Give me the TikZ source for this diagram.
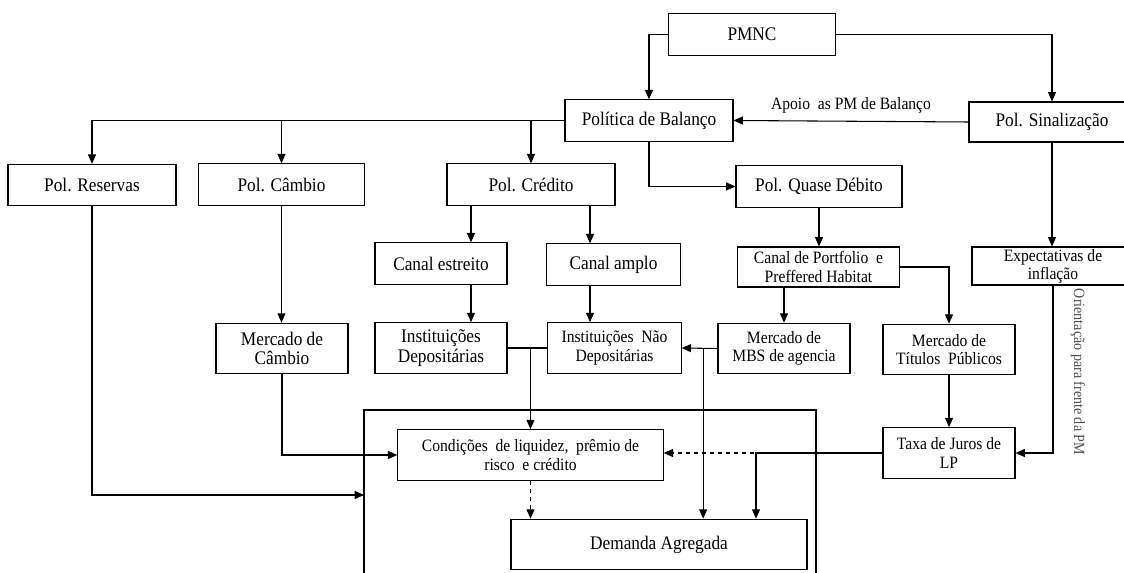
\documentclass[tikz,border=0pt]{standalone}
\usepackage{fontspec}
\setmainfont[FakeStretch=0.9]{Liberation Serif}
\usetikzlibrary{arrows.meta,calc}
\begin{document}
\begin{tikzpicture}[x=0.75pt, y=-0.75pt, line width=0.8pt,
          >={Triangle[length=7pt,width=6pt]},
          pb/.style={draw, align=center, inner sep=0pt, minimum height=31pt,
            font=\fontsize{14.4}{14.8}\selectfont},
          ps/.style={pb, font=\fontsize{13}{13.6}\selectfont},
          tall/.style={minimum height=38pt}]
        \useasboundingbox (0,0) rectangle (1124,573);
        % top level
        \node[pb, minimum width=125pt] (pmnc) at (752,34.5) {PMNC};
        \node[pb, minimum width=126pt] (bal) at (649,120.5) {Política de Balanço};
        \node[pb, minimum width=124.5pt, minimum height=30pt] (sin) at (1052,122) {Pol. Sinalização};
        % policies
        \node[pb, minimum width=126pt] (res) at (92,185) {Pol. Reservas};
        \node[pb, minimum width=125pt] (cam) at (281.5,184.5) {Pol. Câmbio};
        \node[pb, minimum width=126pt] (cre) at (531,184.5) {Pol. Crédito};
        \node[pb, minimum width=124.5pt] (qd) at (819,186.5) {Pol. Quase Débito};
        % channels
        \node[pb, minimum width=99pt] (est) at (441,263.5) {Canal estreito};
        \node[pb, minimum width=100pt] (amp) at (613.5,264.5) {Canal amplo};
        \node[ps, minimum width=121pt, minimum height=30pt] (cp) at (818.5,267) {Canal de Portfolio~ e\\Preffered Habitat};
        \node[ps, minimum width=121.5pt, minimum height=28.5pt] (exp) at (1053,266) {Expectativas de\\inflação};
        % markets
        \node[pb, tall, minimum width=99pt] (mc) at (282,348.5) {Mercado de\\Câmbio};
        \node[pb, tall, minimum width=99pt] (id) at (441,348) {Instituições\\Depositárias};
        \node[ps, tall, minimum width=100pt] (ind) at (614.5,348) {Instituições~ Não\\Depositárias};
        \node[ps, tall, minimum width=99pt] (mbs) at (784,348.5) {Mercado de\\MBS de agencia};
        \node[ps, tall, minimum width=99pt] (tp) at (949,349.5) {Mercado de\\Títulos~ Públicos};
        \node[ps, tall, minimum width=99pt] (tx) at (949,453) {Taxa de Juros de\\LP};
        % bottom
        \draw (364,573) -- (364,410) -- (816,410) -- (816,573);
        \coordinate (frl) at (364,495);
        \node[ps, tall, minimum width=199pt] (cond) at (530.5,455) {Condições~ de liquidez,~ prêmio de\\risco~ e crédito};
        \node[pb, tall, minimum width=222pt] (dem) at (659,544.5) {Demanda Agregada};
        \node[rotate=-90, text=black!70, font=\fontsize{11.7}{12}\selectfont] (ori) at (1078,372) {Orientação para frente da PM};

        \draw[->] (pmnc.west) -| (bal.north);
        \draw[->] (pmnc.east) -| (sin.north);
        \draw[->] (sin.west) -- (bal.east) node[midway, above=2pt, font=\fontsize{13}{13.6}\selectfont] {Apoio~ as PM de Balanço};
        \draw[->] (bal.west) -| (res.north);
        \draw[->] (cam.north |- bal.west) -- (cam.north);
        \draw[->] (cre.north |- bal.west) -- (cre.north);
        \draw[->] (bal.south) |- (qd.west);
        \coordinate (c1) at ($(cre.south)+(-60,0)$);
        \coordinate (c2) at ($(cre.south)+(59,0)$);
        \draw[->] (c1) -- (c1 |- est.north);
        \draw[->] (c2) -- (c2 |- amp.north);
        \draw[->] (c1 |- est.south) -- (c1 |- id.north);
        \draw[->] (c2 |- amp.south) -- (c2 |- ind.north);
        \draw[->] (qd.south) -- (qd.south |- cp.north);
        \draw[->] (mbs.north |- cp.south) -- (mbs.north);
        \draw[->] (cp.east) -| (tp.north);
        \draw[->] (sin.south) -- (sin.south |- exp.north);
        \draw[->] (cam.south) -- (cam.south |- mc.north);
        \draw (id.east) -- (ind.west);
        \draw[->] (cond.north |- id.east) -- (cond.north);
        \draw[->] (mbs.west) -- (ind.east);
        \coordinate (j1) at ($(ind.east)!0.6!(mbs.west)$);
        \draw[->] (j1) -- (j1 |- dem.north);
        \draw[->] (tp.south) -- (tx.north);
        \draw[->] (exp.south) |- (tx.east);
        \draw[->, dashed] (tx.west) -- (tx.west -| cond.east);
        \draw[->] (tx.west) -| ($(dem.north)+(97,0)$);
        \draw[->, dashed] (cond.south) -- (cond.south |- dem.north);
        \draw[->] (mc.south) |- (cond.west);
        \draw[->] (res.south) |- (frl);
      \end{tikzpicture}
\end{document}
